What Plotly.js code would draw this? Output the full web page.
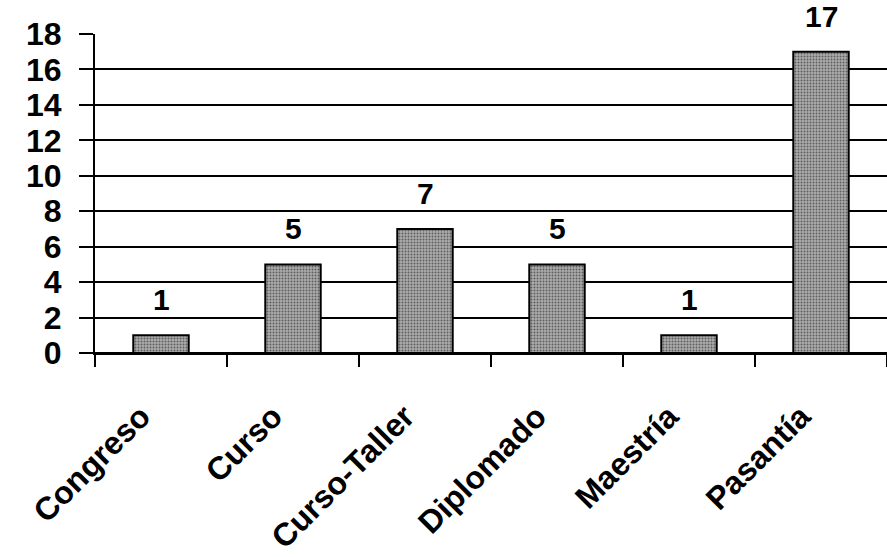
<!DOCTYPE html>
<html>
<head>
<meta charset="utf-8">
<script src="https://cdn.plot.ly/plotly-3.0.1.min.js"></script>
<style>
  html, body { margin: 0; padding: 0; background: #ffffff; }
  #chart { width: 887px; height: 557px; }
</style>
</head>
<body>
<div id="chart"></div>
<script>
const categories = ["Congreso", "Curso", "Curso-Taller", "Diplomado", "Maestría", "Pasantía"];
const values = [1, 5, 7, 5, 1, 17];
const yTickValues = [0, 2, 4, 6, 8, 10, 12, 14, 16, 18];

const FONT = "Liberation Sans, Arial, sans-serif";

const trace = {
  type: "bar",
  x: categories,
  y: values,
  width: 0.42,
  marker: {
    color: "#a0a0a0",
    line: { color: "#000000", width: 2 },
    pattern: { shape: ".", bgcolor: "#acacac", fgcolor: "#5e5e5e", size: 3, solidity: 0.35 }
  },
  hoverinfo: "skip"
};

const annotations = categories.map((c, i) => ({
  x: c, y: values[i], xref: "x", yref: "y",
  text: String(values[i]),
  showarrow: false, yanchor: "bottom", yshift: 17,
  font: { family: FONT, size: 30, color: "#000000", weight: 700 }
}));

const layout = {
  width: 887, height: 557,
  margin: { l: 95, r: 0, t: 34, b: 204 },
  paper_bgcolor: "#ffffff", plot_bgcolor: "#ffffff",
  showlegend: false,
  xaxis: {
    type: "category",
    range: [-0.5, 5.5],
    showline: true, linecolor: "#000000", linewidth: 2,
    ticks: "outside", tickson: "boundaries", ticklen: 12, tickwidth: 2, tickcolor: "#000000",
    tickangle: -45,
    ticklabelstandoff: 30,
    ticklabelshift: -20,
    tickfont: { family: FONT, size: 32, color: "#000000", weight: 700 },
    showgrid: false, zeroline: false, fixedrange: true
  },
  yaxis: {
    range: [0, 18],
    tickvals: yTickValues,
    ticktext: yTickValues.map(String),
    showline: true, linecolor: "#000000", linewidth: 2,
    ticks: "outside", ticklen: 14, tickwidth: 2, tickcolor: "#000000",
    showgrid: true, gridcolor: "#000000", gridwidth: 2,
    zeroline: true, zerolinecolor: "#000000", zerolinewidth: 2,
    tickfont: { family: FONT, size: 32, color: "#000000", weight: 700 },
    ticklabelstandoff: 11,
    fixedrange: true
  },
  annotations: annotations
};

Plotly.newPlot("chart", [trace], layout, { displayModeBar: false, staticPlot: true });
</script>
</body>
</html>
